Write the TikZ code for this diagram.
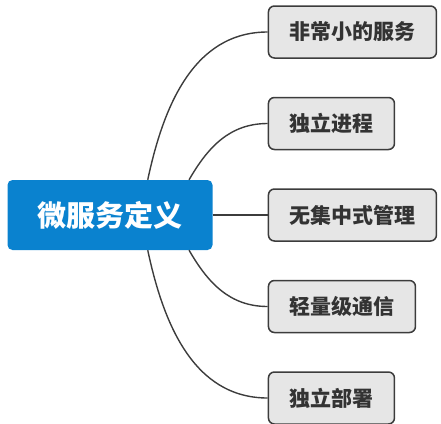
\documentclass[tikz,border=0pt]{standalone}
\usepackage{fontspec}
\newfontfamily\cjk{Noto Sans CJK SC}
\usepackage{xcolor}
\usetikzlibrary{positioning,calc}
\definecolor{coreblue}{HTML}{0A82CF}
\definecolor{leafgray}{HTML}{E6E6E6}
\definecolor{edgegray}{HTML}{3C3C3C}
\definecolor{textgray}{HTML}{333333}

\begin{document}
\begin{tikzpicture}[
        x=1pt, y=1pt,
        core/.style={rectangle,rounded corners=5pt,fill=coreblue,text=white,
                     inner xsep=30pt,minimum height=70pt,
                     font=\cjk\bfseries\fontsize{29}{32}\selectfont},
        leaf/.style={rectangle,rounded corners=6pt,draw=edgegray,fill=leafgray,
                     line width=1.5pt,text=textgray,inner xsep=21pt,minimum height=52pt,
                     font=\cjk\bfseries\fontsize{21}{24}\selectfont},
        link/.style={draw=edgegray,line width=1.4pt}
      ]
      \useasboundingbox (0,0) rectangle (441,-423);
      \node[core] (def) at (110,-215) {微服务定义};
      \node[leaf] (central) [right=55pt of def] {无集中式管理};
      \node[leaf] (process) [above=38pt of central.north west,anchor=south west] {独立进程};
      \node[leaf] (small)   [above=38pt of process.north west,anchor=south west] {非常小的服务};
      \node[leaf] (comm)    [below=38pt of central.south west,anchor=north west] {轻量级通信};
      \node[leaf] (deploy)  [below=38pt of comm.south west,anchor=north west] {独立部署};

      \draw[link] (def.43)  to[out=78,in=180]  (small.west);
      \draw[link] (def.24)  to[out=60,in=180]  (process.west);
      \draw[link] (def)     --                 (central);
      \draw[link] (def.-24) to[out=-60,in=180] (comm.west);
      \draw[link] (def.-43) to[out=-78,in=180] (deploy.west);
    \end{tikzpicture}
\end{document}
